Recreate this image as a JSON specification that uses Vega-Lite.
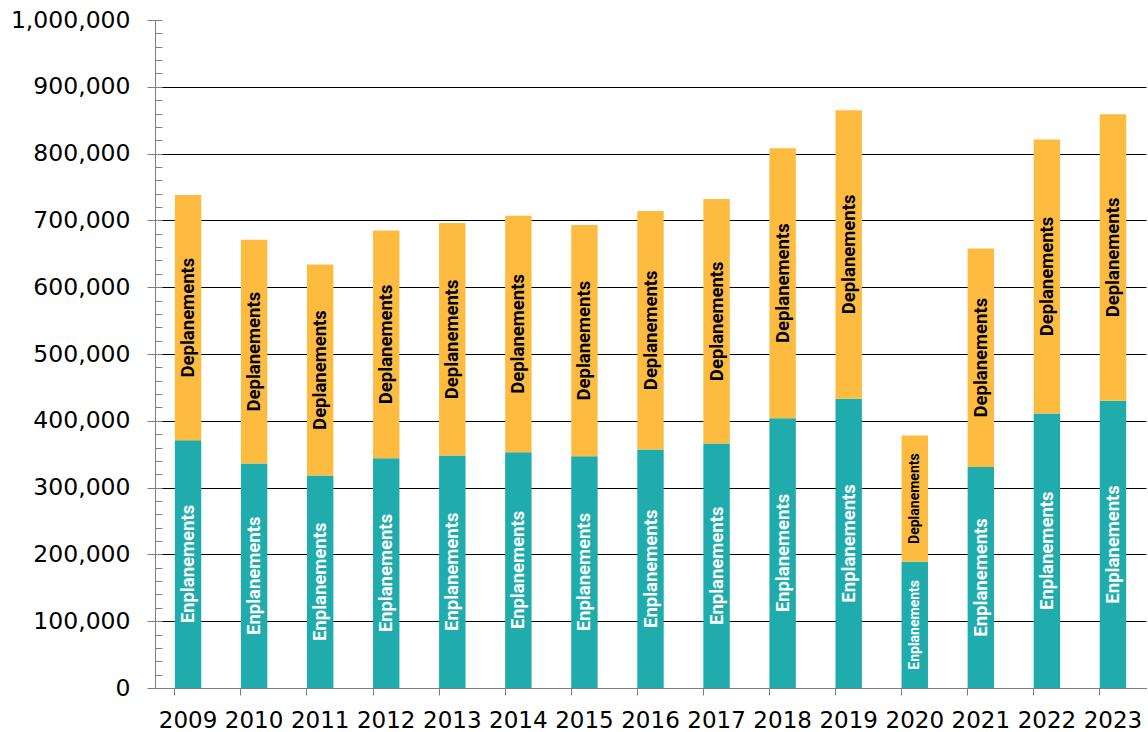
{
  "$schema": "https://vega.github.io/schema/vega-lite/v6.json",
  "width": 991,
  "height": 668,
  "autosize": {"type": "none"},
  "padding": {"left": 155, "top": 20, "right": 2, "bottom": 44},
  "background": "white",
  "config": {"view": {"stroke": null}},
  "data": {"values": [
    {"year": "2009", "type": "Enplanements", "value": 371000},
    {"year": "2009", "type": "Deplanements", "value": 367000},
    {"year": "2010", "type": "Enplanements", "value": 336000},
    {"year": "2010", "type": "Deplanements", "value": 335000},
    {"year": "2011", "type": "Enplanements", "value": 318000},
    {"year": "2011", "type": "Deplanements", "value": 316000},
    {"year": "2012", "type": "Enplanements", "value": 344000},
    {"year": "2012", "type": "Deplanements", "value": 341000},
    {"year": "2013", "type": "Enplanements", "value": 348000},
    {"year": "2013", "type": "Deplanements", "value": 348000},
    {"year": "2014", "type": "Enplanements", "value": 353000},
    {"year": "2014", "type": "Deplanements", "value": 354000},
    {"year": "2015", "type": "Enplanements", "value": 347000},
    {"year": "2015", "type": "Deplanements", "value": 346000},
    {"year": "2016", "type": "Enplanements", "value": 357000},
    {"year": "2016", "type": "Deplanements", "value": 357000},
    {"year": "2017", "type": "Enplanements", "value": 366000},
    {"year": "2017", "type": "Deplanements", "value": 366000},
    {"year": "2018", "type": "Enplanements", "value": 404000},
    {"year": "2018", "type": "Deplanements", "value": 404000},
    {"year": "2019", "type": "Enplanements", "value": 433000},
    {"year": "2019", "type": "Deplanements", "value": 432000},
    {"year": "2020", "type": "Enplanements", "value": 189000},
    {"year": "2020", "type": "Deplanements", "value": 189000},
    {"year": "2021", "type": "Enplanements", "value": 331000},
    {"year": "2021", "type": "Deplanements", "value": 327000},
    {"year": "2022", "type": "Enplanements", "value": 411000},
    {"year": "2022", "type": "Deplanements", "value": 410000},
    {"year": "2023", "type": "Enplanements", "value": 430000},
    {"year": "2023", "type": "Deplanements", "value": 429000}
  ]},
  "transform": [
    {"stack": "value", "groupby": ["year"], "sort": [{"field": "type", "order": "descending"}], "as": ["v0", "v1"]}
  ],
  "encoding": {
    "x": {
      "field": "year", "type": "ordinal",
      "scale": {"paddingInner": 0.6, "paddingOuter": 0.3},
      "axis": {
        "title": null, "labelAngle": 0, "labelFont": "DejaVu Sans", "labelFontSize": 23,
        "labelColor": "black", "labelPadding": 14, "tickSize": 7, "bandPosition": 0,
        "domainColor": "#7f7f7f", "tickColor": "#7f7f7f", "grid": false
      }
    }
  },
  "layer": [
    {
      "mark": {"type": "bar"},
      "encoding": {
        "y": {
          "field": "v1", "type": "quantitative",
          "scale": {"domain": [0, 1000000], "nice": false},
          "axis": {
            "title": null, "orient": "left",
            "values": [0, 100000, 200000, 300000, 400000, 500000, 600000, 700000, 800000, 900000, 1000000],
            "format": ",.0f", "labelFont": "DejaVu Sans", "labelFontSize": 23.5, "labelColor": "black",
            "labelPadding": 17, "tickSize": 8, "tickColor": "#7f7f7f", "domainColor": "#7f7f7f",
            "grid": true, "gridColor": "black", "gridWidth": 1,
            "gridOpacity": {"condition": {"test": "datum.value === 1000000", "value": 0}, "value": 1}
          }
        },
        "y2": {"field": "v0"},
        "color": {
          "field": "type", "type": "nominal",
          "scale": {"domain": ["Enplanements", "Deplanements"], "range": ["#20ACAC", "#FDBB40"]},
          "legend": null
        }
      }
    },
    {
      "transform": [
        {"fold": ["v0", "v1"], "as": ["edge", "pos"]},
        {"aggregate": [{"op": "mean", "field": "pos", "as": "mid"}], "groupby": ["year", "type"]}
      ],
      "mark": {"type": "text", "angle": 270, "font": "Roboto", "fontWeight": "bold", "align": "center", "baseline": "middle"},
      "encoding": {
        "y": {
          "field": "mid", "type": "quantitative",
          "axis": {
            "title": null, "orient": "left", "labels": false, "domain": false, "grid": false,
            "values": [0, 20000, 40000, 60000, 80000, 100000, 120000, 140000, 160000, 180000, 200000, 220000, 240000, 260000, 280000, 300000, 320000, 340000, 360000, 380000, 400000, 420000, 440000, 460000, 480000, 500000, 520000, 540000, 560000, 580000, 600000, 620000, 640000, 660000, 680000, 700000, 720000, 740000, 760000, 780000, 800000, 820000, 840000, 860000, 880000, 900000, 920000, 940000, 960000, 980000, 1000000],
            "tickSize": -7, "tickColor": "#7f7f7f"
          }
        },
        "text": {"field": "type"},
        "color": {"condition": {"test": "datum.type === 'Enplanements'", "value": "white"}, "value": "black"},
        "size": {"condition": {"test": "datum.year === '2020'", "value": 14}, "value": 18.5}
      }
    }
  ],
  "resolve": {"axis": {"y": "independent"}}
}
